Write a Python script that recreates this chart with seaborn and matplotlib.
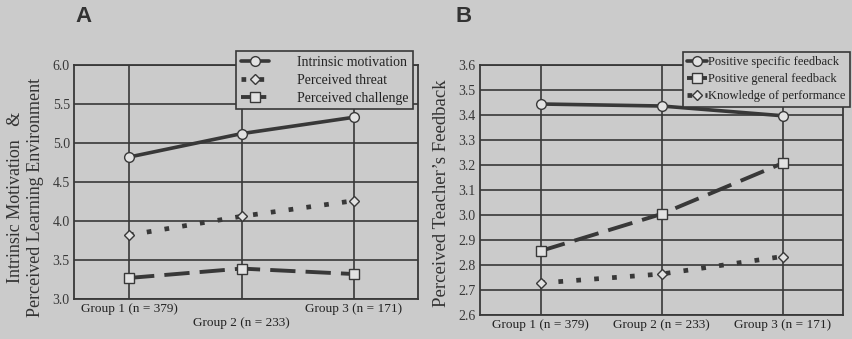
import matplotlib
matplotlib.use("Agg")
import matplotlib.pyplot as plt
import seaborn as sns
import pandas as pd

# ---- data ----
groups = ["Group 1 (n = 379)", "Group 2 (n = 233)", "Group 3 (n = 171)"]

a_series = ["Intrinsic motivation", "Perceived threat", "Perceived challenge"]
a_intrinsic = [4.82, 5.12, 5.33]
a_threat = [3.82, 4.06, 4.26]
a_challenge = [3.27, 3.39, 3.32]
a_yticks = [3.0, 3.5, 4.0, 4.5, 5.0, 5.5, 6.0]

b_series = ["Positive specific feedback", "Positive general feedback", "Knowledge of performance"]
b_specific = [3.444, 3.436, 3.397]
b_general = [2.856, 3.004, 3.207]
b_knowledge = [2.728, 2.764, 2.834]
b_yticks = [2.6, 2.7, 2.8, 2.9, 3.0, 3.1, 3.2, 3.3, 3.4, 3.5, 3.6]

BG = "#cbcbcb"
INK = "#383838"
MFC = "#e2e2e2"

sns.set_theme(style="white")
plt.rcParams["font.family"] = ["Liberation Serif", "DejaVu Serif"]
plt.rcParams["figure.facecolor"] = BG
plt.rcParams["axes.facecolor"] = BG

fig = plt.figure(figsize=(8.52, 3.39), dpi=100)
axA = fig.add_axes([74/852, 1-299/339, 344/852, 234/339])
axB = fig.add_axes([480/852, 1-315/339, 363/852, 250/339])

SOLID = dict(ls="-", marker="o", lw=2.6, ms=7, cap="butt")
DOTTED = dict(ls=(0, (1, 2.8)), marker="D", lw=3.4, ms=5.5, cap="butt")
DASHED = dict(ls=(0, (6.5, 2.6)), marker="s", lw=2.8, ms=6.5, cap="butt")

styles_a = [SOLID, DOTTED, DASHED]
styles_b = [SOLID, DASHED, DOTTED]

def draw(ax, names, vals, styles):
    for name, v, st in zip(names, vals, styles):
        df = pd.DataFrame({"group": groups, "value": v})
        sns.lineplot(data=df, x="group", y="value", ax=ax, color=INK,
                     linestyle=st["ls"], linewidth=st["lw"], marker=st["marker"],
                     markersize=st["ms"], markerfacecolor=MFC, markeredgecolor=INK,
                     markeredgewidth=1.0, label=name, dash_capstyle=st["cap"],
                     sort=False)

draw(axA, a_series, [a_intrinsic, a_threat, a_challenge], styles_a)
draw(axB, b_series, [b_specific, b_general, b_knowledge], styles_b)

for ax, yt, ylim, xlim in [(axA, a_yticks, (3.0, 6.0), (-0.49, 2.57)),
                           (axB, b_yticks, (2.6, 3.6), (-0.5, 2.5))]:
    ax.set_ylim(*ylim)
    ax.set_xlim(*xlim)
    ax.set_yticks(yt)
    ax.set_yticklabels([f"{t:.1f}" for t in yt], fontsize=10, color=INK)
    ax.set_xticks(range(len(groups)))
    ax.grid(True, color=INK, lw=1.2)
    ax.set_axisbelow(True)
    for s in ax.spines.values():
        s.set_visible(True)
        s.set_color(INK)
        s.set_linewidth(1.3)
    ax.tick_params(length=0, pad=3, colors=INK)
    ax.set_xlabel("")

axA.set_xticklabels([groups[0], "\n" + groups[1], groups[2]], fontsize=9.5, color="#222222")
axB.set_xticklabels(groups, fontsize=9.5, color="#222222")

axA.set_ylabel("Intrinsic Motivation   &\nPerceived Learning Environment",
                fontsize=13, color="#333333", linespacing=1.25)
axA.yaxis.set_label_coords(-0.141, 0.436)
axA.yaxis.label.set_va("center")
axB.set_ylabel("Perceived Teacher\u2019s Feedback", fontsize=13.5, color="#333333")
axB.yaxis.set_label_coords(-0.105, 0.488)
axB.yaxis.label.set_va("center")

legA = axA.legend(loc="upper right", bbox_to_anchor=(413/852, 1-51/339),
                  bbox_transform=fig.transFigure, frameon=True, fancybox=False,
                  facecolor=BG, edgecolor=INK, framealpha=1, fontsize=10,
                  handlelength=2.0, handletextpad=2.0, borderpad=0.35,
                  labelspacing=0.35, borderaxespad=0)
legA.get_frame().set_linewidth(1.2)
legB = axB.legend(loc="upper right", bbox_to_anchor=(850/852, 1-52/339),
                  bbox_transform=fig.transFigure, frameon=True, fancybox=False,
                  facecolor=BG, edgecolor=INK, framealpha=1, fontsize=9,
                  handlelength=1.6, handletextpad=0.1, borderpad=0.35,
                  labelspacing=0.4, borderaxespad=0)
legB.get_frame().set_linewidth(1.2)
for leg in (legA, legB):
    for t in leg.get_texts():
        t.set_color("#222222")

fig.text(75/852, 1-27/339, "A", fontsize=16, fontweight="bold",
         family="Liberation Sans", color="#333333", va="bottom")
fig.text(456/852, 1-27/339, "B", fontsize=16, fontweight="bold",
         family="Liberation Sans", color="#333333", va="bottom")

fig.savefig("out.png", dpi=100, facecolor=BG)
